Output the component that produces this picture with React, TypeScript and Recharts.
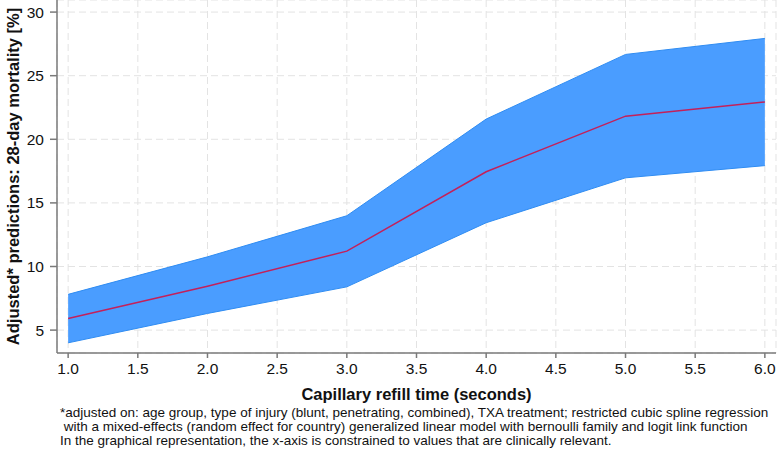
import { ComposedChart, Area, Line, XAxis, YAxis, CartesianGrid } from 'recharts';

// capillary refill time (seconds)
const crt = [1, 2, 3, 4, 5, 6];
// adjusted predicted 28-day mortality [%] and 95% CI
const predicted = [5.92, 8.45, 11.21, 17.45, 21.82, 22.93];
const lower = [4.0, 6.31, 8.4, 13.44, 16.97, 17.93];
const upper = [7.81, 10.76, 13.99, 21.59, 26.67, 27.93];

const xTicks = [1, 1.5, 2, 2.5, 3, 3.5, 4, 4.5, 5, 5.5, 6];
const yTicks = [5, 10, 15, 20, 25, 30];

const footnotes = [
  '*adjusted on: age group, type of injury (blunt, penetrating, combined), TXA treatment; restricted cubic spline regression',
  ' with a mixed-effects (random effect for country) generalized linear model with bernoulli family and logit link function',
  'In the graphical representation, the x-axis is constrained to values that are clinically relevant.',
];

const data = crt.map((x, i) => ({
  x,
  band: [lower[i], upper[i]],
  pred: predicted[i],
}));

const font = '"Liberation Sans", Arial, Helvetica, sans-serif';
const axisGrey = '#7a7a7a';

export default function App() {
  return (
    <div style={{ position: 'relative', width: 778, height: 453, fontFamily: font }}>
      <style>{'html, body { margin: 0; padding: 0; overflow: hidden; }'}</style>
      <ComposedChart
        width={778}
        height={453}
        data={data}
        margin={{ top: 0, right: 2, bottom: 53, left: 0 }}
      >
        <CartesianGrid stroke="#e3e3e3" strokeDasharray="7 4" />
        <XAxis
          type="number"
          dataKey="x"
          domain={[0.92, 6.08]}
          ticks={xTicks}
          tickFormatter={(v: number) => v.toFixed(1)}
          allowDataOverflow
          height={47}
          tickSize={5}
          tickMargin={5}
          stroke={axisGrey}
          strokeWidth={1.5}
          tick={{ fill: '#111', fontSize: 15.5, fontFamily: font }}
          label={{
            value: 'Capillary refill time (seconds)',
            position: 'insideBottom',
            offset: 0,
            style: { fill: '#111', fontSize: 16.5, fontWeight: 'bold', fontFamily: font },
          }}
        />
        <YAxis
          type="number"
          domain={[3.2, 30.95]}
          ticks={yTicks}
          allowDataOverflow
          width={57}
          tickSize={7}
          tickMargin={6}
          stroke={axisGrey}
          strokeWidth={1.5}
          tick={{ fill: '#111', fontSize: 15.5, fontFamily: font }}
          label={{
            value: 'Adjusted* predictions: 28-day mortality [%]',
            angle: -90,
            position: 'insideLeft',
            offset: 13,
            style: { fill: '#111', fontSize: 16.5, fontWeight: 'bold', fontFamily: font, textAnchor: 'middle' },
          }}
        />
        <Area
          type="linear"
          dataKey="band"
          fill="#4a9dff"
          fillOpacity={1}
          stroke="#2f8cf2"
          strokeWidth={1}
          isAnimationActive={false}
        />
        <Line
          type="linear"
          dataKey="pred"
          stroke="#c4205a"
          strokeWidth={1.5}
          dot={false}
          isAnimationActive={false}
        />
      </ComposedChart>
      {footnotes.map((t, i) => (
        <div
          key={i}
          style={{
            position: 'absolute',
            left: 60,
            top: 406 + i * 14,
            fontSize: 13.5,
            lineHeight: '14px',
            whiteSpace: 'pre',
            color: '#111',
          }}
        >
          {t}
        </div>
      ))}
    </div>
  );
}
